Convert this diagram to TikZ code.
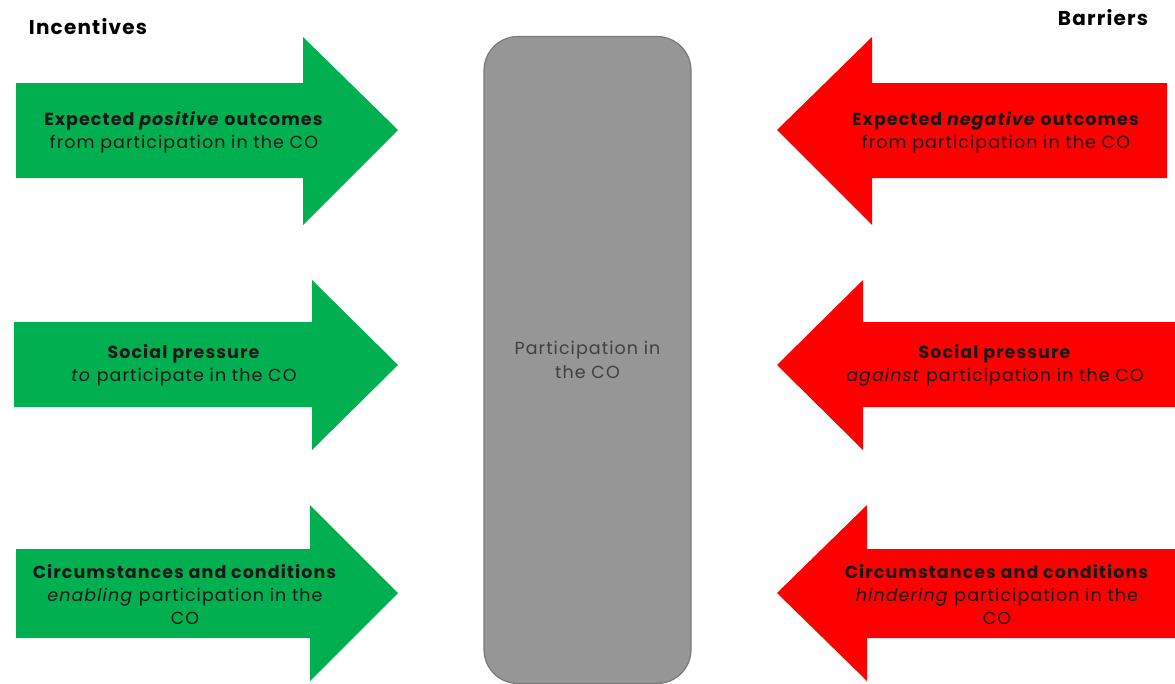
\documentclass[tikz,border=0pt]{standalone}
\usepackage{fontspec}
\setmainfont{Poppins}[LetterSpace=6]
\usepackage{tikz}
\usetikzlibrary{positioning}

\definecolor{incgreen}{HTML}{00B050}
\definecolor{barred}{HTML}{FF0000}
\definecolor{boxgrey}{HTML}{969696}
\definecolor{boxline}{HTML}{7A7A7A}

\tikzset{
  incarrow/.style={fill=incgreen},
  bararrow/.style={fill=barred},
  label/.style={align=center, text=black!90, font=\fontsize{17.5}{23}\selectfont, inner sep=0pt},
  heading/.style={font=\fontsize{20}{24}\selectfont\bfseries, inner sep=0pt},
  partbox/.style={draw=boxline, line width=1.2pt, fill=boxgrey, rounded corners=34pt,
    minimum width=207pt, minimum height=647pt, align=center, text=black!75,
    font=\fontsize{17.5}{24}\selectfont}
}

\begin{document}
\begin{tikzpicture}[x=1pt,y=-1pt]
\useasboundingbox (0,0) rectangle (1175,683);

% incentives
\fill[incarrow] (16,83) -- (303,83) -- (303,37) -- (398,130) -- (303,225) -- (303,178) -- (16,178) -- cycle;
\fill[incarrow] (14,322) -- (312,322) -- (312,280) -- (398,365) -- (312,450) -- (312,407) -- (14,407) -- cycle;
\fill[incarrow] (16,549) -- (310,549) -- (310,505) -- (398,593) -- (310,681) -- (310,638) -- (16,638) -- cycle;

% barriers
\fill[bararrow] (1167,83) -- (872,83) -- (872,37) -- (777,130) -- (872,225) -- (872,178) -- (1167,178) -- cycle;
\fill[bararrow] (1175,322) -- (863,322) -- (863,280) -- (777,365) -- (863,450) -- (863,407) -- (1175,407) -- cycle;
\fill[bararrow] (1175,549) -- (867,549) -- (867,505) -- (777,593) -- (867,681) -- (867,638) -- (1175,638) -- cycle;

\node[partbox] (part) at (587.5,360) {Participation in\\the CO};

\node[heading] (inc) at (88,27) {Incentives};
\node[heading] (bar) at (1103,18) {Barriers};

\node[label] (posout) at (184,132) {\textbf{Expected \textit{positive} outcomes}\\from participation in the CO};
\node[label] (topress) at (184,365) {\textbf{Social pressure}\\\textit{to} participate in the CO};
\node[label] (enable) at (185,595) {\textbf{Circumstances and conditions}\\\textit{enabling} participation in the\\CO};

\node[label] (negout) at (996,132) {\textbf{Expected \textit{negative} outcomes}\\from participation in the CO};
\node[label] (agpress) at (995,365) {\textbf{Social pressure}\\\textit{against} participation in the CO};
\node[label] (hinder) at (997,595) {\textbf{Circumstances and conditions}\\\textit{hindering} participation in the\\CO};
\end{tikzpicture}
\end{document}
